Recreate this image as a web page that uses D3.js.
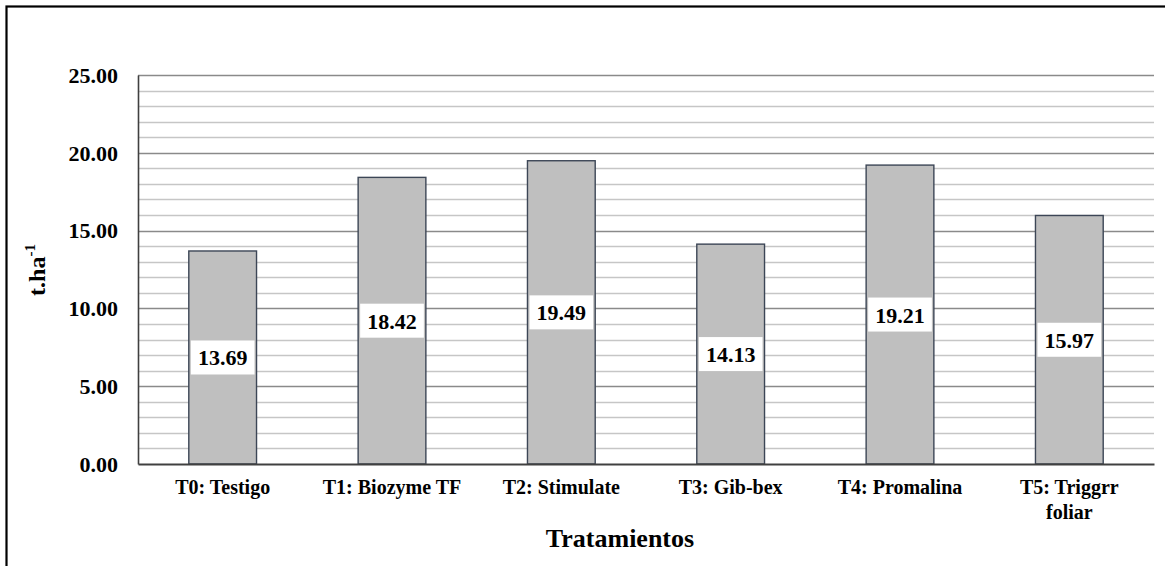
<!DOCTYPE html>
<html><head><meta charset="utf-8">
<script src="https://cdn.jsdelivr.net/npm/d3@7"></script>
<style>
html,body{margin:0;padding:0;background:#fff;}
svg{display:block;}
</style></head>
<body>
<svg id="chart" width="1165" height="566"></svg>
<script>
const categories = ["T0: Testigo","T1: Biozyme TF","T2: Stimulate","T3: Gib-bex","T4: Promalina","T5: Triggrr foliar"];
const values = [13.69, 18.42, 19.49, 14.13, 19.21, 15.97];
const yTicks = [0, 5, 10, 15, 20, 25];
const yTickLabels = ["0.00","5.00","10.00","15.00","20.00","25.00"];
const xTitle = "Tratamientos";
const FONT = "Liberation Serif";

const svg = d3.select("#chart");
const m = {left: 138, right: 1154, top: 75, bottom: 464};

svg.append("rect").attr("x",6.5).attr("y",6.5).attr("width",1200).attr("height",600)
  .attr("fill","#fff").attr("stroke","#000").attr("stroke-width",2.2);

const x = d3.scaleBand().domain(categories).range([m.left, m.right]).paddingInner(0.6).paddingOuter(0.3);
const y = d3.scaleLinear().domain([0,25]).range([m.bottom, m.top]);

// gridlines
const grid = d3.range(1, 26);
svg.append("g").selectAll("line").data(grid).join("line")
  .attr("x1", m.left).attr("x2", m.right)
  .attr("y1", d => Math.round(y(d))+0.5).attr("y2", d => Math.round(y(d))+0.5)
  .attr("stroke", d => d % 5 === 0 ? "#8a8a8a" : "#c6c6c6")
  .attr("stroke-width", d => d % 5 === 0 ? 1.6 : 1.3);

// bars
svg.append("g").selectAll("rect").data(values).join("rect")
  .attr("x", (d,i) => x(categories[i]))
  .attr("y", d => y(d))
  .attr("width", x.bandwidth())
  .attr("height", d => y(0) - y(d))
  .attr("fill", "#bfbfbf").attr("stroke", "#3c4656").attr("stroke-width", 1.4);

// axes
const yAxis = d3.axisLeft(y).tickValues(yTicks).tickSize(0).tickPadding(20)
  .tickFormat((d,i) => yTickLabels[i]);
const gy = svg.append("g").attr("transform", `translate(${m.left},0)`).call(yAxis)
  .attr("font-family", FONT).attr("font-size", 22);
gy.select(".domain").attr("stroke","#404040").attr("stroke-width",1.6);
gy.selectAll("text").attr("font-weight","bold").attr("fill","#000").attr("dy","0.33em");

const xAxis = d3.axisBottom(x).tickSize(0).tickPadding(0).tickFormat("");
const gx = svg.append("g").attr("transform", `translate(0,${m.bottom})`).call(xAxis);
gx.select(".domain").attr("stroke","#404040").attr("stroke-width",1.8);

// x labels with wrapping
categories.forEach((c) => {
  const cx = x(c) + x.bandwidth()/2;
  const lines = c.length > 16 ? [c.slice(0, c.lastIndexOf(" ")), c.slice(c.lastIndexOf(" ")+1)] : [c];
  const t = svg.append("text").attr("text-anchor","middle")
    .attr("font-family", FONT).attr("font-weight","bold").attr("font-size",20);
  lines.forEach((ln, k) => {
    t.append("tspan").attr("x", cx).attr("y", 494 + k*25).text(ln);
  });
});

// value labels
const lab = svg.append("g").selectAll("g").data(values).join("g")
  .attr("transform", (d,i) => `translate(${x(categories[i]) + x.bandwidth()/2},${(y(d)+y(0))/2})`);
lab.append("rect").attr("x", -x.bandwidth()/2 + 2).attr("y", -17)
  .attr("width", x.bandwidth() - 4).attr("height", 34).attr("fill", "#fff");
lab.append("text").attr("text-anchor","middle").attr("y", 8)
  .attr("font-family", FONT).attr("font-weight","bold").attr("font-size",22)
  .text(d => d.toFixed(2));

// axis titles
svg.append("text").attr("text-anchor","middle").attr("x", 620).attr("y", 547)
  .attr("font-family", FONT).attr("font-weight","bold").attr("font-size",26).text(xTitle);

const yt = svg.append("text").attr("text-anchor","middle")
  .attr("transform","translate(45,270) rotate(-90)")
  .attr("font-family", FONT).attr("font-weight","bold").attr("font-size",24);
yt.append("tspan").text("t.ha");
yt.append("tspan").attr("dy",-10).attr("font-size",15).text("-1");
</script>
</body></html>
